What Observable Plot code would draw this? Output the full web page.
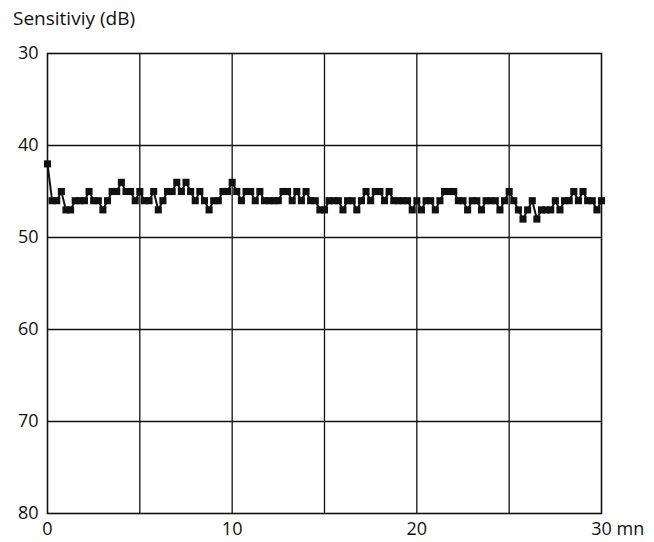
<!DOCTYPE html>
<html>
<head>
<meta charset="utf-8">
<script src="https://cdn.jsdelivr.net/npm/d3@7"></script>
<script src="https://cdn.jsdelivr.net/npm/@observablehq/plot@0.6"></script>
<style>
  html, body { margin: 0; padding: 0; background: #fff; }
  #wrap { position: relative; width: 654px; height: 542px; }
  #title { position: absolute; left: 13px; top: 5px; font-family: "Open Sans", sans-serif; font-size: 19px; color: #111; }
  #chart { position: absolute; left: 0; top: 0; }
</style>
</head>
<body>
<div id="wrap">
  <div id="chart"></div>
  <div id="title">Sensitiviy (dB)</div>
</div>
<script>
// Time in minutes (one reading every 0.25 min)
const step = 0.25;
const sensitivity = [
  42, 46, 46, 45, 47, 47, 46, 46, 46, 45,
  46, 46, 47, 46, 45, 45, 44, 45, 45, 46,
  45, 46, 46, 45, 47, 46, 45, 45, 44, 45,
  44, 45, 46, 45, 46, 47, 46, 46, 45, 45,
  44, 45, 46, 45, 45, 46, 45, 46, 46, 46,
  46, 45, 45, 46, 45, 46, 45, 46, 46, 47,
  47, 46, 46, 46, 47, 46, 46, 47, 46, 45,
  46, 45, 45, 46, 45, 46, 46, 46, 46, 47,
  46, 47, 46, 46, 47, 46, 45, 45, 45, 46,
  46, 47, 46, 46, 47, 46, 46, 46, 47, 46,
  45, 46, 47, 48, 47, 46, 48, 47, 47, 47,
  46, 47, 46, 46, 45, 46, 45, 46, 46, 47,
  46
];
const xTicks = [0, 10, 20, 30];
const xGrid = [5, 10, 15, 20, 25];
const yTicks = [30, 40, 50, 60, 70, 80];
const yGrid = [40, 50, 60, 70];
const xUnit = "mn";

const data = sensitivity.map((v, i) => ({t: i * step, v}));

const chart = Plot.plot({
  width: 654,
  height: 542,
  marginLeft: 47,
  marginRight: 53,
  marginTop: 53,
  marginBottom: 29,
  style: {fontFamily: "'Open Sans', sans-serif", fontSize: "18px", color: "#111", background: "#fff"},
  x: {domain: [0, 30], ticks: xTicks, label: null},
  y: {domain: [30, 80], reverse: true, ticks: yTicks, label: null},
  marks: [
    Plot.gridX(xGrid, {stroke: "#111", strokeOpacity: 1, strokeWidth: 1.3}),
    Plot.gridY(yGrid, {stroke: "#111", strokeOpacity: 1, strokeWidth: 1.3}),
    Plot.frame({stroke: "#111", strokeWidth: 1.6}),
    Plot.axisX(xTicks, {tickSize: 0, tickPadding: 9, fontSize: 18}),
    Plot.axisY(yTicks, {tickSize: 0, tickPadding: 9, fontSize: 18}),
    Plot.text([xUnit], {x: () => 30, y: () => 80, dx: 15, dy: 16, textAnchor: "start", fontSize: 18}),
    Plot.line(data, {x: "t", y: "v", stroke: "#111", strokeWidth: 2}),
    Plot.dot(data, {x: "t", y: "v", symbol: "square", r: 4, fill: "#111", stroke: "none"})
  ]
});
document.getElementById("chart").appendChild(chart);
</script>
</body>
</html>
